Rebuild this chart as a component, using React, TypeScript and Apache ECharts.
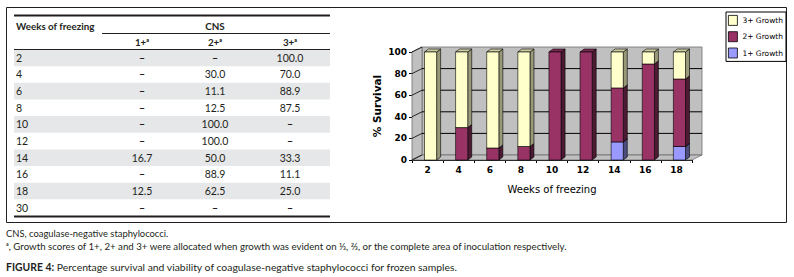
import React, { useEffect, useRef } from 'react';
import * as echarts from 'echarts';

// ---------- data ----------
const tableWeeks = ['2', '4', '6', '8', '10', '12', '14', '16', '18', '30'];
const growth1: (number | null)[] = [null, null, null, null, null, null, 16.7, null, 12.5, null];
const growth2: (number | null)[] = [null, 30.0, 11.1, 12.5, 100.0, 100.0, 50.0, 88.9, 62.5, null];
const growth3: (number | null)[] = [100.0, 70.0, 88.9, 87.5, null, null, 33.3, 11.1, 25.0, null];
const headerCols = ['1+', '2+', '3+'];
const seriesNames = ['1+ Growth', '2+ Growth', '3+ Growth'];
const yTicks = [0, 20, 40, 60, 80, 100];

// chart uses weeks that have any data
const chartIdx = tableWeeks.map((_, i) => i).filter(i => growth1[i] != null || growth2[i] != null || growth3[i] != null);
const chartWeeks = chartIdx.map(i => tableWeeks[i]);

// ---------- style constants ----------
const DX = 10, DY = 5; // wall depth
const BD = 4, BDY = 3; // bar depth
const SHIFT = 3;
const TFONT = 'Lato, "Open Sans", sans-serif';
const CFONT = '"DejaVu Sans", Verdana, sans-serif';
const TCOL = '#231f20';
const barColors = [
  { front: '#9999FF', side: '#4D4D80', top: '#7A7ACC' },
  { front: '#993366', side: '#4D1A33', top: '#7A2952' },
  { front: '#FFFFCC', side: '#99997A', top: '#CCCCA3' },
];

const fmt = (v: number | null) => (v == null ? '\u2013' : v.toFixed(1));

function buildGraphic() {
  const els: any[] = [];
  const tx0 = 14, tx1 = 330;
  const rowTop = 49.5, rowH = 16.65;
  const colX = [142, 215, 290];
  // frame
  els.push({ type: 'rect', shape: { x: 6.5, y: 7.5, width: 780, height: 215 }, style: { fill: 'none', stroke: TCOL, lineWidth: 1 } });
  // shading
  tableWeeks.forEach((_, i) => {
    if (i % 2 === 0) {
      els.push({ type: 'rect', shape: { x: tx0, y: rowTop + rowH * i, width: tx1 - tx0, height: rowH }, style: { fill: '#e6e7e8' } });
    }
  });
  // rules
  els.push({ type: 'line', shape: { x1: tx0, y1: 15.5, x2: tx1, y2: 15.5 }, style: { stroke: TCOL, lineWidth: 2 } });
  els.push({ type: 'line', shape: { x1: 102, y1: 33.5, x2: tx1, y2: 33.5 }, style: { stroke: TCOL, lineWidth: 1 } });
  els.push({ type: 'line', shape: { x1: tx0, y1: 49.5, x2: tx1, y2: 49.5 }, style: { stroke: TCOL, lineWidth: 1 } });
  els.push({ type: 'line', shape: { x1: tx0, y1: rowTop + rowH * tableWeeks.length + 0.5, x2: tx1, y2: rowTop + rowH * tableWeeks.length + 0.5 }, style: { stroke: TCOL, lineWidth: 2 } });
  const txt = (text: string, x: number, y: number, align: string, bold = false, size = 10.5) => ({
    type: 'text', x, y,
    style: { text, fill: TCOL, fontFamily: TFONT, fontSize: size, fontWeight: bold ? 'bold' : 'normal', align, textAlign: align, verticalAlign: 'middle', textVerticalAlign: 'middle' },
  });
  els.push(txt('Weeks of freezing', 16, 25.5, 'left', true, 9.8));
  els.push(txt('CNS', 215, 25.5, 'center', true, 9.8));
  headerCols.forEach((h, j) => els.push(txt(h + '\u1D43', colX[j], 42, 'center', true, 9.8)));
  tableWeeks.forEach((w, i) => {
    const y = rowTop + rowH * (i + 0.5);
    els.push(txt(w, 16, y, 'left'));
    [growth1, growth2, growth3].forEach((arr, j) => els.push(txt(fmt(arr[i]), colX[j], y, 'center', arr[i] == null)));
  });
  // footnotes
  els.push(txt('CNS, coagulase-negative staphylococci.', 6, 233, 'left', false, 9.4));
  els.push(txt('\u1D43, Growth scores of 1+, 2+ and 3+ were allocated when growth was evident on \u2153, \u2154, or the complete area of inoculation respectively.', 6, 245.5, 'left', false, 9.7));
  els.push({
    type: 'text', x: 6, y: 267,
    style: {
      text: '{b|FIGURE 4:} Percentage survival and viability of coagulase-negative staphylococci for frozen samples.',
      fill: TCOL, fontFamily: TFONT, fontSize: 10.4, align: 'left', textAlign: 'left', verticalAlign: 'middle', textVerticalAlign: 'middle',
      rich: { b: { fontFamily: TFONT, fontSize: 10.4, fontWeight: 'bold', fill: TCOL, color: TCOL } },
    },
  });
  return els;
}

function wallsRender(params: any, api: any) {
  const cs = params.coordSys;
  const x0 = cs.x, x1 = cs.x + cs.width, yT = cs.y, yB = cs.y + cs.height;
  const wall = { fill: '#c0c0c0', stroke: '#6e6e6e', lineWidth: 0.8 };
  const children: any[] = [
    { type: 'rect', shape: { x: x0 + DX, y: yT - DY, width: cs.width, height: cs.height }, style: wall },
    { type: 'polygon', shape: { points: [[x0, yT], [x0 + DX, yT - DY], [x0 + DX, yB - DY], [x0, yB]] }, style: wall },
    { type: 'polygon', shape: { points: [[x0, yB], [x0 + DX, yB - DY], [x1 + DX, yB - DY], [x1, yB]] }, style: wall },
  ];
  yTicks.forEach(v => {
    const y = api.coord([0, v])[1];
    if (v > 0 && v < 100) {
      children.push({ type: 'line', shape: { x1: x0 + DX, y1: y - DY, x2: x1 + DX, y2: y - DY }, style: { stroke: '#000', lineWidth: 1 } });
    }
    children.push({ type: 'line', shape: { x1: x0, y1: y, x2: x0 + DX, y2: y - DY }, style: { stroke: '#000', lineWidth: 0.8 } });
  });
  return { type: 'group', children };
}

const makeBarRender = (c: { front: string; side: string; top: string }) => (params: any, api: any) => {
  const i = api.value(0), b = api.value(1), t = api.value(2);
  if (!(t - b > 0)) return null;
  const band = api.size([1, 0])[0];
  const w = band * 0.39;
  const p0 = api.coord([i, b]), p1 = api.coord([i, t]);
  const xl = p0[0] - w / 2 + SHIFT, xr = xl + w;
  const yb = p0[1], yt = p1[1];
  const st = (fill: string) => ({ fill, stroke: '#000', lineWidth: 0.6 });
  return {
    type: 'group',
    children: [
      { type: 'polygon', shape: { points: [[xr, yt], [xr + BD, yt - BDY], [xr + BD, yb - BDY], [xr, yb]] }, style: st(c.side) },
      { type: 'polygon', shape: { points: [[xl, yt], [xl + BD, yt - BDY], [xr + BD, yt - BDY], [xr, yt]] }, style: st(c.top) },
      { type: 'rect', shape: { x: xl, y: yt, width: w, height: yb - yt }, style: st(c.front) },
    ],
  };
};

function buildOption() {
  const levels = [growth1, growth2, growth3];
  const base = chartIdx.map(() => 0);
  const barSeries = levels.map((arr, k) => {
    const data = chartIdx.map((ti, ci) => {
      const v = arr[ti] ?? 0;
      const item = [ci, base[ci], base[ci] + v];
      base[ci] += v;
      return item;
    });
    return {
      type: 'custom', name: seriesNames[k], coordinateSystem: 'cartesian2d',
      renderItem: makeBarRender(barColors[k]), data, encode: { x: 0, y: [1, 2] },
      itemStyle: { color: barColors[k].front }, z: 3 + k,
    };
  });
  const axisLabel = { fontFamily: CFONT, fontWeight: 'bold', fontSize: 9, color: '#000', margin: 5 };
  return {
    animation: false,
    backgroundColor: '#fff',
    grid: { left: 412, right: 102, top: 52, bottom: 117, containLabel: false },
    xAxis: {
      type: 'category', data: chartWeeks,
      axisLine: { show: true, lineStyle: { color: '#000', width: 1 } },
      axisTick: { show: true, length: 3, lineStyle: { color: '#000' } },
      axisLabel,
      name: 'Weeks of freezing', nameLocation: 'middle', nameGap: 24,
      nameTextStyle: { fontFamily: CFONT, fontSize: 10, color: '#000' },
    },
    yAxis: {
      type: 'value', min: 0, max: 100, interval: 20,
      axisLine: { show: true, lineStyle: { color: '#000', width: 1 } },
      axisTick: { show: true, length: 3, lineStyle: { color: '#000' } },
      splitLine: { show: false },
      axisLabel,
      name: '% Survival', nameLocation: 'middle', nameGap: 30, nameRotate: 90,
      nameTextStyle: { fontFamily: CFONT, fontSize: 10.5, fontWeight: 'bold', color: '#000' },
    },
    legend: {
      orient: 'vertical', left: 726, top: 12, padding: [3, 3, 3, 2],
      itemWidth: 9, itemHeight: 10, itemGap: 5.5,
      borderColor: '#000', borderWidth: 1,
      textStyle: { fontFamily: CFONT, fontSize: 7.5, color: '#000' },
      data: [2, 1, 0].map(k => ({ name: seriesNames[k], icon: 'rect', itemStyle: { color: barColors[k].front, borderColor: '#000', borderWidth: 0.8 } })),
    },
    graphic: { elements: buildGraphic() },
    series: [
      { type: 'custom', name: 'walls', coordinateSystem: 'cartesian2d', renderItem: wallsRender, data: [[0, 0]], silent: true, z: 1 },
      ...barSeries,
    ],
  };
}

export default function App() {
  const ref = useRef<HTMLDivElement>(null);
  useEffect(() => {
    if (!ref.current) return;
    const chart = echarts.init(ref.current, undefined, { renderer: 'svg' });
    chart.setOption(buildOption() as any);
    return () => chart.dispose();
  }, []);
  return <div ref={ref} style={{ position: 'absolute', left: 0, top: 0, width: 794, height: 277, background: '#fff' }} />;
}
